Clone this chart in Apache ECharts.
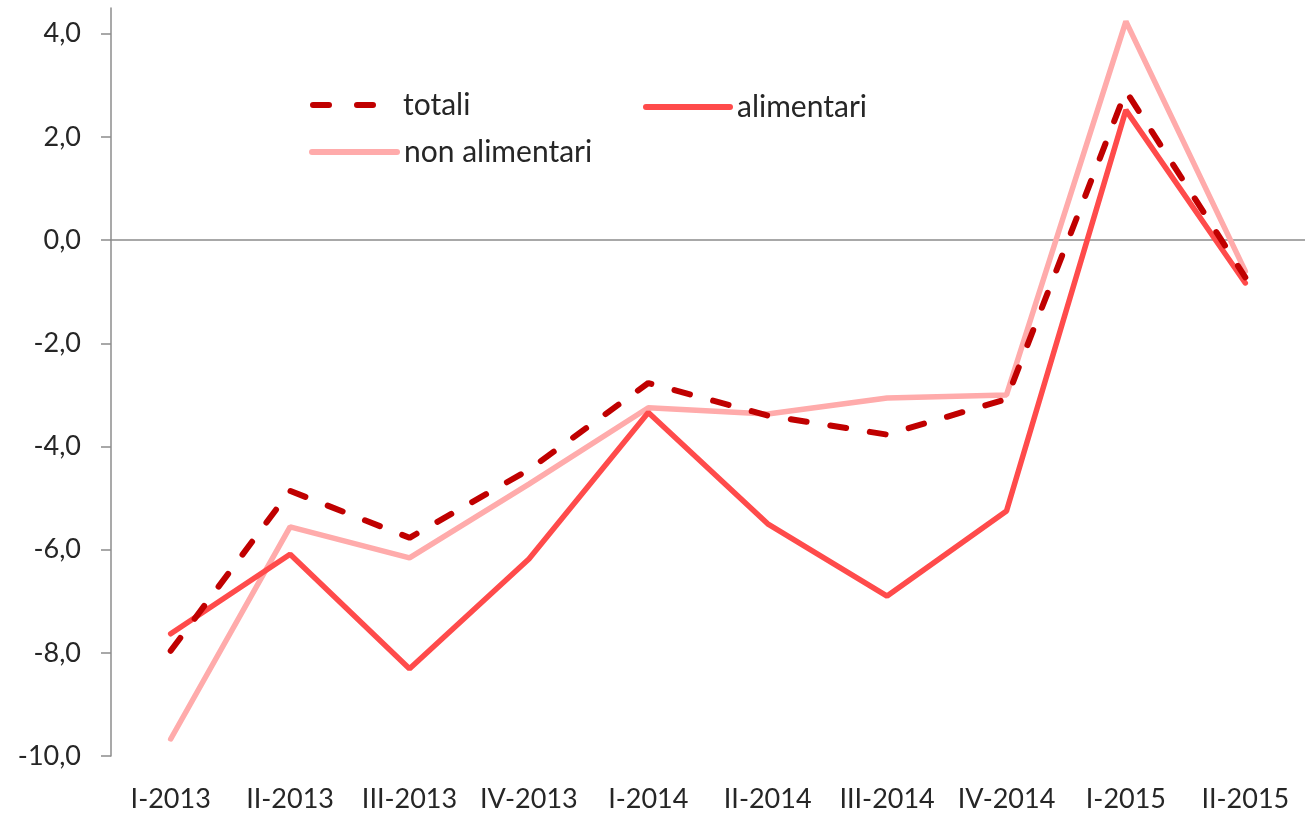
<!DOCTYPE html>
<html>
<head>
<meta charset="utf-8">
<script src="https://cdn.jsdelivr.net/npm/echarts@6/dist/echarts.min.js"></script>
<style>
    html, body { margin: 0; padding: 0; background: #fff; }
    #chart { width: 1305px; height: 813px; }
</style>
</head>
<body>
<div id="chart"></div>
<script>
    // trimestri
    var categories = ['I-2013', 'II-2013', 'III-2013', 'IV-2013', 'I-2014', 'II-2014', 'III-2014', 'IV-2014', 'I-2015', 'II-2015'];
    var totali = [-7.96, -4.86, -5.77, -4.45, -2.77, -3.40, -3.77, -3.08, 2.89, -0.72];
    var alimentari = [-7.63, -6.09, -8.31, -6.18, -3.34, -5.50, -6.90, -5.25, 2.52, -0.83];
    var nonAlimentari = [-9.67, -5.56, -6.16, -4.73, -3.25, -3.37, -3.06, -3.00, 4.24, -0.60];
    var yTicks = [-10, -8, -6, -4, -2, 0, 2, 4];

    var font = 'Lato, "Open Sans", sans-serif';
    var textColor = '#262626';

    var chart = echarts.init(document.getElementById('chart'));

    function legendAt(name, left, top, w, pad, dash) {
        return {
            data: [name],
            left: left,
            top: top,
            itemWidth: w,
            itemHeight: 14,
            itemGap: 0,
            itemStyle: { opacity: 0 },
            lineStyle: dash ? { width: 6, cap: 'round', type: dash } : { width: 6, cap: 'round' },
            textStyle: { fontFamily: font, fontSize: 30, color: textColor, padding: [0, 0, 0, pad] }
        };
    }

    var option = {
        animation: false,
        legend: [
            legendAt('totali', 305, 85, 64, 21, [16, 28]),
            legendAt('alimentari', 638, 87, 84, 2),
            legendAt('non alimentari', 304, 132, 85, 2)
        ],
        grid: { left: 111, right: -8, top: 8, bottom: 57 },
        xAxis: [
            {
                type: 'category',
                data: categories,
                position: 'bottom',
                axisLine: { show: false, onZero: false },
                axisTick: { show: false },
                axisLabel: { interval: 0, fontFamily: font, fontSize: 27, color: textColor, margin: 30 }
            },
            {
                type: 'category',
                data: categories,
                position: 'top',
                axisLine: { show: true, onZero: true, lineStyle: { color: '#8c8c8c', width: 1.5 } },
                axisTick: { show: false },
                axisLabel: { show: false }
            }
        ],
        yAxis: {
            type: 'value',
            min: -10,
            max: 4.5,
            interval: 2,
            axisLine: { show: true, lineStyle: { color: '#8c8c8c', width: 1.5 } },
            axisTick: { show: true, length: 10, customValues: yTicks, lineStyle: { color: '#8c8c8c', width: 1.5 } },
            splitLine: { show: false },
            axisLabel: {
                customValues: yTicks,
                fontFamily: font, fontSize: 27, color: textColor, margin: 30,
                formatter: function (v) { return v.toFixed(1).replace('.', ','); }
            }
        },
        series: [
            {
                name: 'totali',
                type: 'line',
                data: totali,
                symbol: 'none',
                z: 4,
                itemStyle: { color: '#C00000' },
                lineStyle: { color: '#C00000', width: 6, type: [16, 24], cap: 'round' }
            },
            {
                name: 'alimentari',
                type: 'line',
                data: alimentari,
                symbol: 'none',
                z: 3,
                itemStyle: { color: '#FF4B4B' },
                lineStyle: { color: '#FF4B4B', width: 5.5, cap: 'round' }
            },
            {
                name: 'non alimentari',
                type: 'line',
                data: nonAlimentari,
                symbol: 'none',
                z: 2,
                itemStyle: { color: '#FFABAB' },
                lineStyle: { color: '#FFABAB', width: 5.5, cap: 'round' }
            }
        ]
    };

    chart.setOption(option);
</script>
</body>
</html>
